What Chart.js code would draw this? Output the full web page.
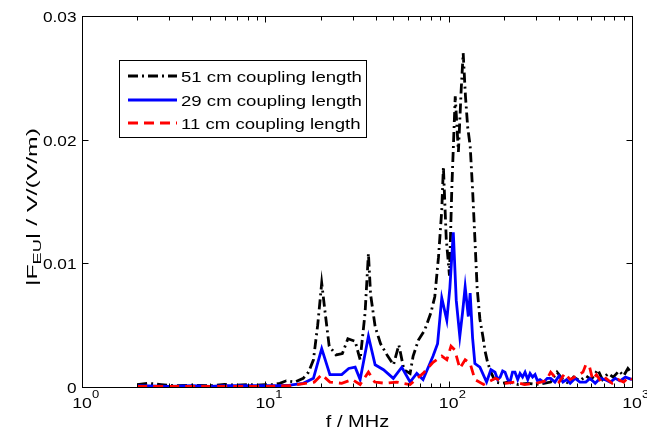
<!DOCTYPE html>
<html>
<head>
<meta charset="utf-8">
<script src="https://cdn.jsdelivr.net/npm/chart.js@4.4.0/dist/chart.umd.min.js"></script>
<style>
  body { margin: 0; background: #fff; }
  canvas { display: block; }
</style>
</head>
<body>
<canvas id="chart" width="647" height="438"></canvas>
<script>
// --------------------- DATA (f in MHz, |F_EU| in V/(V/m)) ---------------------
const freq51 = [2, 2.3, 2.7, 3.2, 4, 5, 6, 7, 8, 9, 10, 11, 12, 13, 14.5, 16.1, 17.2, 18.3, 19.3, 20.3,
  21.2, 22.3, 24.3, 26.3, 28.2, 30.9, 32.9, 35, 36.5, 37.5, 39.7, 42.5, 46.5, 50, 53.5, 57, 61.6, 64,
  68.4, 74, 80, 84, 88, 91.7, 93.6, 97, 101, 104, 108.6, 113, 117, 120, 123.5, 127, 131, 135, 139, 143,
  148, 154, 158, 163, 170, 180, 195, 215, 240, 270, 300, 330, 360, 390, 420, 450, 480, 520, 560, 600,
  650, 690, 740, 790, 850, 900, 950, 1000];
const val51 = [0.0002, 0.0003, 0.0002, 0.0001, 0.00015, 0.0001, 0.0002, 0.00015, 0.0002, 0.00015, 0.0002,
  0.0002, 0.0003, 0.0005, 0.0004, 0.0007, 0.0012, 0.0022, 0.005, 0.0084,
  0.006, 0.0033, 0.0026, 0.0027, 0.0039, 0.0037, 0.0022, 0.006, 0.0108, 0.0075, 0.0049, 0.0035, 0.0025,
  0.0018, 0.0034, 0.0014, 0.0011, 0.0025,
  0.0038, 0.0046, 0.006, 0.0073, 0.0105, 0.0143, 0.0178, 0.012, 0.009, 0.016, 0.0235, 0.019, 0.024, 0.027,
  0.0235, 0.021, 0.0195, 0.016, 0.012, 0.008,
  0.0055, 0.004, 0.0029, 0.002, 0.0012, 0.0004, 0.0003, 0.0004, 0.0002, 0.0003, 0.0002, 0.0003, 0.0004,
  0.0012, 0.0006, 0.0003, 0.0008, 0.0005, 0.0009, 0.0006,
  0.0014, 0.0006, 0.0011, 0.0008, 0.0013, 0.0009, 0.0015, 0.0011];

const freq29 = [2, 3, 4, 5, 6, 8, 10, 12, 13.6, 16.1, 18.3, 20.3, 22.5, 26.1, 28.5, 30.9, 32.9, 36.5, 39.7,
  44.1, 49.9, 55.5, 61.6, 67, 72.5, 82.2, 87, 91.7, 97.7, 101.5, 106, 110, 115, 119, 123, 128, 131, 135,
  139, 148, 161, 170, 179, 185, 191, 197, 203, 210, 216, 223, 230, 238, 245, 253, 261, 270, 278, 287, 296,
  305, 315, 330, 345, 360, 380, 400, 420, 440, 460, 490, 520, 560, 590, 630, 670, 710, 760, 810, 860, 920, 1000];
const val29 = [0.0001, 0.00005, 0.0001, 0.00005, 0.0001, 0.0001, 0.0001, 0.0001, 0.00016, 0.0003, 0.0007,
  0.0031, 0.001, 0.001, 0.0015, 0.0016, 0.0006, 0.0041, 0.0018,
  0.0014, 0.0007, 0.0016, 0.0004, 0.0011, 0.0006, 0.0025, 0.0035, 0.0072, 0.0054, 0.008, 0.0125, 0.007,
  0.0041, 0.006, 0.0081, 0.0057, 0.0076, 0.004,
  0.0019, 0.0016, 0.0004, 0.0014, 0.0012, 0.0006, 0.0008, 0.0013, 0.0012, 0.0006, 0.0004, 0.0012, 0.0012,
  0.0006, 0.0011, 0.0008, 0.0012, 0.0006, 0.0011, 0.0008, 0.001,
  0.0005, 0.0006, 0.0004, 0.0007, 0.0007, 0.0004, 0.0009, 0.0004, 0.0006, 0.0003, 0.0007, 0.0004, 0.0004,
  0.0007, 0.0003, 0.0007, 0.0006, 0.0004, 0.0007, 0.0005, 0.0008, 0.0006];

const freq11 = [2, 3, 5, 8, 10, 13.6, 16.5, 18.5, 20.3, 22.5, 26.1, 29.8, 32.9, 36.5, 39.5, 45, 52, 61.6,
  72.5, 82.2, 91.7, 97.7, 103, 108, 115, 123, 131, 139, 155, 180, 205, 230, 260, 300, 340, 360, 380, 400,
  430, 460, 500, 540, 560, 585, 610, 640, 680, 720, 780, 840, 900, 960, 1000];
const val11 = [0.00005, 0.00005, 0.00005, 0.00005, 0.00005, 0.0001, 0.0003, 0.0004, 0.001, 0.0004, 0.0003,
  0.0006, 0.0002, 0.0012, 0.0004, 0.0003, 0.0004, 0.0002,
  0.0011, 0.002, 0.0025, 0.0022, 0.0033, 0.003, 0.0015, 0.0022, 0.0019, 0.0006, 0.0002, 0.0007, 0.0003,
  0.0004, 0.0002, 0.0003, 0.0005, 0.0012, 0.0008, 0.0004,
  0.0011, 0.0006, 0.0009, 0.0012, 0.0018, 0.0017, 0.0006, 0.001, 0.0004, 0.0007, 0.0003, 0.0006, 0.0004,
  0.0008, 0.0006];

const seriesLabels = ["51 cm coupling length", "29 cm coupling length", "11 cm coupling length"];
const xTickExponents = [0, 1, 2, 3];
const yTicks = [0, 0.01, 0.02, 0.03];
const yTickLabels = ["0", "0.01", "0.02", "0.03"];

const FONT = '"Liberation Sans", Arial, Helvetica, sans-serif';

function toPoints(xs, ys) {
  return xs.map((x, i) => ({ x: x, y: ys[i] }));
}

// text is drawn slightly stretched sideways, like the exported figure
function drawText(ctx, text, x, y, size, sx, align) {
  ctx.save();
  ctx.translate(x, y);
  ctx.scale(sx, 1);
  ctx.font = size + "px " + FONT;
  ctx.textAlign = align || "left";
  ctx.textBaseline = "alphabetic";
  ctx.fillText(text, 0, 0);
  ctx.restore();
}

// --------------------- FRAME, TICKS, LABELS, LEGEND ---------------------
const framePlugin = {
  id: "frame",
  afterDraw(chart) {
    const { ctx, chartArea: a, scales } = chart;
    const xs = scales.x, ys = scales.y;
    const L = Math.round(a.left) + 0.5, R = Math.round(a.right) + 0.5;
    const T = Math.round(a.top) + 0.5, B = Math.round(a.bottom) + 0.5;
    ctx.save();
    ctx.strokeStyle = "#000";
    ctx.fillStyle = "#000";
    ctx.lineWidth = 1;
    ctx.setLineDash([]);
    ctx.strokeRect(L, T, R - L, B - T);

    // log x ticks (major + minor), inward
    ctx.beginPath();
    for (let d = 0; d < 3; d++) {
      for (let m = 1; m <= 9; m++) {
        const px = Math.round(xs.getPixelForValue(Math.pow(10, d) * m)) + 0.5;
        const len = m === 1 ? 6 : 4;
        ctx.moveTo(px, B); ctx.lineTo(px, B - len);
        ctx.moveTo(px, T); ctx.lineTo(px, T + len);
      }
    }
    yTicks.forEach((v) => {
      const py = Math.round(ys.getPixelForValue(v)) + 0.5;
      ctx.moveTo(L, py); ctx.lineTo(L + 6, py);
      ctx.moveTo(R, py); ctx.lineTo(R - 6, py);
    });
    ctx.stroke();

    // y tick labels
    yTicks.forEach((v, i) => {
      const py = ys.getPixelForValue(v);
      drawText(ctx, yTickLabels[i], L - 6, py + 6, 15, 1.15, "right");
    });

    // x tick labels 10^n
    xTickExponents.forEach((e) => {
      const px = xs.getPixelForValue(Math.pow(10, e));
      drawText(ctx, "10", px, 408, 15, 1.18, "center");
      drawText(ctx, String(e), px + 10, 398, 11, 1.18, "left");
    });

    // x axis title
    drawText(ctx, "f / MHz", (L + R) / 2, 427, 16, 1.25, "center");

    // y axis title with subscript, rotated
    ctx.save();
    ctx.translate(37, (T + B) / 2 + 5);
    ctx.rotate(-Math.PI / 2);
    const big = "15px " + FONT, small = "11px " + FONT;
    ctx.font = big;
    const w1 = ctx.measureText("|F").width;
    const w3 = ctx.measureText("| / V/(V/m)").width;
    ctx.font = small;
    const w2 = ctx.measureText("EU").width;
    const total = w1 + w2 + w3;
    const k = 158 / total;
    ctx.scale(k, 1);
    let cx = -total / 2;
    ctx.textBaseline = "alphabetic";
    ctx.textAlign = "left";
    ctx.font = big; ctx.fillText("|F", cx, 0); cx += w1;
    ctx.font = small; ctx.fillText("EU", cx, 4); cx += w2;
    ctx.font = big; ctx.fillText("| / V/(V/m)", cx, 0);
    ctx.restore();

    // legend box
    const order = [2, 1, 0];   // datasets are stored red, blue, black
    const bx = 119.5, by = 60.5, bw = 247, bh = 77;
    ctx.fillStyle = "#fff";
    ctx.fillRect(bx, by, bw, bh);
    ctx.strokeRect(bx, by, bw, bh);
    const rows = [76, 100, 123];
    order.forEach((di, r) => {
      const ds = chart.data.datasets[di];
      ctx.save();
      ctx.strokeStyle = ds.borderColor;
      ctx.lineWidth = 2.8;
      ctx.setLineDash(ds.borderDash || []);
      ctx.beginPath();
      ctx.moveTo(128, rows[r]);
      ctx.lineTo(177, rows[r]);
      ctx.stroke();
      ctx.restore();
      ctx.fillStyle = "#000";
      drawText(ctx, ds.label, 181, rows[r] + 5.5, 15.5, 1.2, "left");
    });
    ctx.restore();
  }
};

// --------------------- CHART ---------------------
new Chart(document.getElementById("chart"), {
  type: "scatter",
  data: {
    datasets: [
      { label: seriesLabels[2], data: toPoints(freq11, val11), borderColor: "#ff0000",
        borderDash: [10, 6], showLine: true, order: 0 },
      { label: seriesLabels[1], data: toPoints(freq29, val29), borderColor: "#0000ff",
        showLine: true, order: 1 },
      { label: seriesLabels[0], data: toPoints(freq51, val51), borderColor: "#000000",
        borderDash: [10, 4, 2, 4], showLine: true, order: 2 },
    ],
  },
  options: {
    responsive: false,
    animation: false,
    devicePixelRatio: 1,
    layout: { padding: { left: 82, right: 15, top: 16, bottom: 51 } },
    elements: {
      point: { radius: 0 },
      line: { borderWidth: 2.8, tension: 0, fill: false },
    },
    plugins: { legend: { display: false }, tooltip: { enabled: false } },
    scales: {
      x: {
        type: "logarithmic", min: 1, max: 1000,
        grid: { display: false, drawTicks: false }, ticks: { display: false }, border: { display: false },
        afterFit: (s) => { s.height = 0; },
      },
      y: {
        type: "linear", min: 0, max: 0.03,
        grid: { display: false, drawTicks: false }, ticks: { display: false }, border: { display: false },
        afterFit: (s) => { s.width = 0; },
      },
    },
  },
  plugins: [framePlugin],
});
</script>
</body>
</html>
